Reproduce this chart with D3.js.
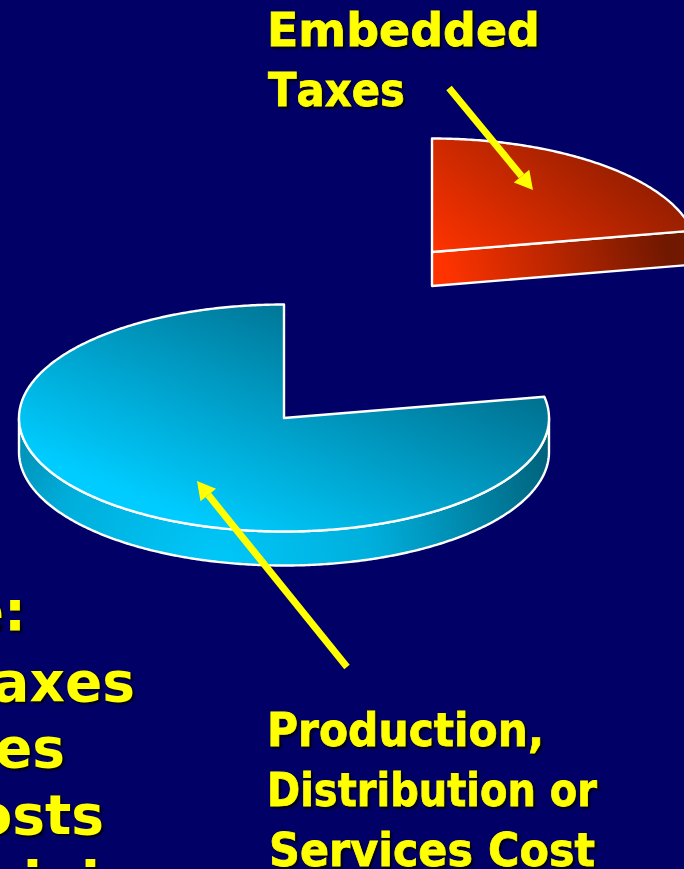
<!DOCTYPE html>
<html><head><meta charset="utf-8">
<script src="https://cdn.jsdelivr.net/npm/d3@7/dist/d3.min.js"></script>
<style>
html,body{margin:0;padding:0;background:#000066;overflow:hidden}
svg{display:block}
text{fill:#ffff00;font-weight:700;font-family:"DejaVu Sans",sans-serif;font-kerning:none;filter:drop-shadow(2px 2px 1px rgba(0,0,0,.85))}
.cal{font-size:47px;stroke:#ffff00;stroke-width:.8px}
.ver{font-size:55px}
</style></head><body>
<svg id="c" width="684" height="869"></svg>
<script>
const categories = ["Embedded Taxes", "Production, Distribution or Services Cost"];
const shares = [22, 78];
const labelTaxes = ["Embedded", "Taxes"];
const labelCost = ["Production,", "Distribution or", "Services Cost"];
const sideLines = ["e:", "Taxes", "Fees", "Costs"];
const sideDots = "ini";

const rx = 265, ry = 113.5, depth = 34;
const svg = d3.select("#c");
const defs = svg.append("defs");

function grad(id, p, stops){
  const g = defs.append("linearGradient").attr("id", id).attr("gradientUnits","userSpaceOnUse")
    .attr("x1",p[0]).attr("y1",p[1]).attr("x2",p[2]).attr("y2",p[3]);
  stops.forEach(s => g.append("stop").attr("offset",s[0]).attr("stop-color",s[1]));
}
grad("blueTop",[200,525,300,290],[[0,"#00ccff"],[1,"#006f8e"]]);
grad("redTop",[436,255,570,90],[[0,"#ff3300"],[1,"#8a1c00"]]);
grad("redSide",[450,292,665,238],[[0,"#ff3300"],[1,"#701800"]]);
const rg = defs.append("radialGradient").attr("id","blueSide").attr("gradientUnits","userSpaceOnUse")
  .attr("cx",215).attr("cy",570).attr("r",360);
rg.append("stop").attr("offset",0).attr("stop-color","#00c8fa");
rg.append("stop").attr("offset",0.45).attr("stop-color","#00aedb");
rg.append("stop").attr("offset",1).attr("stop-color","#005f78");

const pie = d3.pie().sort(null)(shares);
const [taxSlice, costSlice] = pie;
const centers = [{x:432,y:252},{x:284,y:418}];
const xs = d3.scaleLinear().domain([-1,1]).range([-rx,rx]);
const ys = d3.scaleLinear().domain([-1,1]).range([ry,-ry]);
const pt = (a,c,dy=0) => [c.x + xs(Math.sin(a)), c.y + ys(Math.cos(a)) + dy];
const line = d3.line();
const sweep = (a0,a1) => { const n = Math.ceil(Math.abs(a1-a0)/0.01); return d3.range(n+1).map(i => a0+(a1-a0)*i/n); };
const style = sel => sel.attr("stroke","#fff").attr("stroke-width",2.4).attr("stroke-linejoin","round");

const cB = centers[1];
const rimB = sweep(Math.PI/2, 3*Math.PI/2);
svg.append("path")
  .attr("d", line([...rimB.map(a=>pt(a,cB)), ...rimB.slice().reverse().map(a=>pt(a,cB,depth))])+"Z")
  .attr("fill","url(#blueSide)").call(style);
svg.append("path")
  .attr("d", line([[cB.x,cB.y], ...sweep(costSlice.startAngle,costSlice.endAngle).map(a=>pt(a,cB))])+"Z")
  .attr("fill","url(#blueTop)").call(style);

const cR = centers[0];
const eP = pt(taxSlice.endAngle,cR);
svg.append("path")
  .attr("d", line([[cR.x,cR.y], eP, [eP[0],eP[1]+depth], [cR.x,cR.y+depth]])+"Z")
  .attr("fill","url(#redSide)").call(style);
svg.append("path")
  .attr("d", line([[cR.x,cR.y], ...sweep(taxSlice.startAngle,taxSlice.endAngle).map(a=>pt(a,cR))])+"Z")
  .attr("fill","url(#redTop)").call(style);

function arrow(x0,y0,x1,y1){
  const L = Math.hypot(x1-x0,y1-y0), ux=(x1-x0)/L, uy=(y1-y0)/L, hl=18, hw=10;
  const bx=x1-ux*hl, by=y1-uy*hl;
  svg.append("line").attr("x1",x0).attr("y1",y0).attr("x2",bx).attr("y2",by)
    .attr("stroke","#ffff00").attr("stroke-width",7);
  svg.append("path").attr("d",line([[x1,y1],[bx-uy*hw,by+ux*hw],[bx+uy*hw,by-ux*hw]])+"Z").attr("fill","#ffff00");
}
arrow(449,88,533,190);
arrow(347,667,197,481);

function put(arr, xv, yv, widths){
  arr.forEach((t,i)=>{
    svg.append("text").attr("class","cal").attr("x",xv[i]).attr("y",yv[i])
      .attr("textLength",widths[i]).attr("lengthAdjust","spacingAndGlyphs").text(t);
  });
}
put(labelTaxes,[267,268],[46,106],[273,137]);
put(labelCost,[267,267,269],[746,806,866],[277,330,326]);
const sideEnd = [26,135,65,104], sideY = [630,701,767,834];
sideLines.forEach((t,i)=>{
  svg.append("text").attr("class","ver").attr("x",sideEnd[i]).attr("y",sideY[i])
    .attr("text-anchor","end").text(t);
});
svg.append("text").attr("class","ver").attr("x",23).attr("y",901).text(sideDots);
</script>
</body></html>
